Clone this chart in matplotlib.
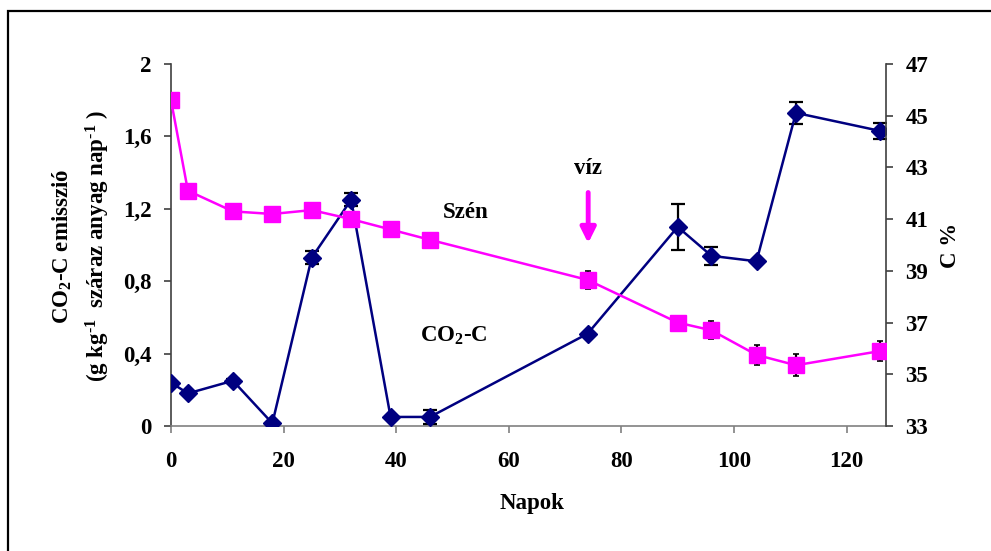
import matplotlib
matplotlib.use("Agg")
import matplotlib.pyplot as plt
from matplotlib.patches import Rectangle

plt.rcParams['font.family'] = ['Liberation Serif', 'DejaVu Serif']
plt.rcParams['font.weight'] = 'bold'
plt.rcParams['mathtext.fontset'] = 'custom'
plt.rcParams['mathtext.rm'] = 'Liberation Serif:bold'
plt.rcParams['mathtext.bf'] = 'Liberation Serif:bold'
plt.rcParams['mathtext.it'] = 'Liberation Serif:bold'

# Data
days_co2 = [0, 3, 11, 18, 25, 32, 39, 46, 74, 90, 96, 104, 111, 126]
co2 = [0.24, 0.18, 0.25, 0.015, 0.93, 1.25, 0.05, 0.05, 0.51, 1.10, 0.94, 0.91, 1.73, 1.63]
co2_err = [0.0, 0.0, 0.01, 0.0, 0.035, 0.035, 0.0, 0.04, 0.0, 0.125, 0.05, 0.0, 0.06, 0.045]

days_c = [0, 3, 11, 18, 25, 32, 39, 46, 74, 90, 96, 104, 111, 126]
carbon = [45.6, 42.1, 41.3, 41.2, 41.35, 41.0, 40.6, 40.2, 38.65, 37.0, 36.7, 35.75, 35.35, 35.9]
carbon_err = [0.0, 0.0, 0.0, 0.15, 0.0, 0.0, 0.0, 0.0, 0.35, 0.0, 0.35, 0.38, 0.42, 0.4]

left_ticks = [0, 0.4, 0.8, 1.2, 1.6, 2]
left_labels = ['0', '0,4', '0,8', '1,2', '1,6', '2']
right_ticks = [33, 35, 37, 39, 41, 43, 45, 47]
x_ticks = [0, 20, 40, 60, 80, 100, 120]

W, H = 991, 551
FS = 16.5
fig = plt.figure(figsize=(W / 100, H / 100), dpi=100)
ax = fig.add_axes([171 / W, 1 - 426 / H, (886 - 171) / W, (426 - 64) / H])
ax2 = ax.twinx()

navy = '#000080'
mag = '#FF00FF'

ax.errorbar(days_co2, co2, yerr=co2_err, color=navy, lw=1.8, marker='D', ms=9.5,
            mfc=navy, mec=navy, ecolor='black', elinewidth=1.6, capsize=5, capthick=1.6, zorder=3)
ax2.errorbar(days_c, carbon, yerr=carbon_err, color=mag, lw=1.8, marker='s', ms=11,
             mfc=mag, mec=mag, ecolor='black', elinewidth=1.6, capsize=2, capthick=1.2, zorder=3)

ax.set_xlim(0, 127)
ax.set_ylim(0, 2)
ax2.set_ylim(33, 47)

ax.set_xticks(x_ticks)
ax.set_xticklabels([str(t) for t in x_ticks])
ax.set_yticks(left_ticks)
ax.set_yticklabels(left_labels)
ax2.set_yticks(right_ticks)
ax2.set_yticklabels([str(t) for t in right_ticks])

for a in (ax, ax2):
    a.spines['top'].set_visible(False)
    for s in ('left', 'right', 'bottom'):
        a.spines[s].set_color('#808080')
        a.spines[s].set_linewidth(1.2)
ax.spines['right'].set_visible(False)
ax2.spines['left'].set_visible(False)
ax2.spines['bottom'].set_visible(False)
ax.spines['left'].set_color('#404040')
ax2.spines['right'].set_color('#404040')

ax.tick_params(axis='x', direction='out', length=5, width=1.2, color='#808080',
               labelsize=FS, pad=13)
ax.tick_params(axis='y', direction='out', length=5, width=1.2, color='#404040',
               labelsize=FS, pad=9)
ax2.tick_params(axis='y', direction='out', length=5, width=1.2, color='#404040',
                labelsize=FS, pad=9)
for lab in ax.get_xticklabels() + ax.get_yticklabels() + ax2.get_yticklabels():
    lab.set_fontweight('bold')

# Axis labels
fig.text(532 / W, 1 - 503 / H, 'Napok', ha='center', va='center', fontsize=FS, fontweight='bold')
fig.text(62 / W, 1 - 246 / H, 'CO$_2$-C emisszió', ha='center', va='center', rotation=90,
         fontsize=FS, fontweight='bold')
fig.text(98 / W, 1 - 246 / H, r'(g kg$^{\text{-1}}$  száraz anyag nap$^{\text{-1}}$ )', ha='center',
         va='center', rotation=90, fontsize=FS, fontweight='bold')
fig.text(950 / W, 1 - 245 / H, 'C %', ha='center', va='center', rotation=90,
         fontsize=FS, fontweight='bold')

# Annotations
ax.text(52.3, 1.18, 'Szén', ha='center', va='center', fontsize=FS, fontweight='bold')
ax.text(50.2, 0.50, 'CO$_2$-C', ha='center', va='center', fontsize=FS, fontweight='bold')
ax.text(74.1, 1.425, 'víz', ha='center', va='center', fontsize=FS, fontweight='bold')
ax.annotate('', xy=(74.1, 1.01), xytext=(74.1, 1.29),
            arrowprops=dict(arrowstyle='-|>,head_length=0.9,head_width=0.45', color=mag, lw=3.5,
                            shrinkA=0, shrinkB=0), zorder=5)

# Outer frame
fig.patches.append(Rectangle((7.5 / W, -0.1), 1.2, 1 - 10.5 / H + 0.1, transform=fig.transFigure,
                             fill=False, edgecolor='black', linewidth=1.6, zorder=0))

fig.savefig('out.png', dpi=100)
